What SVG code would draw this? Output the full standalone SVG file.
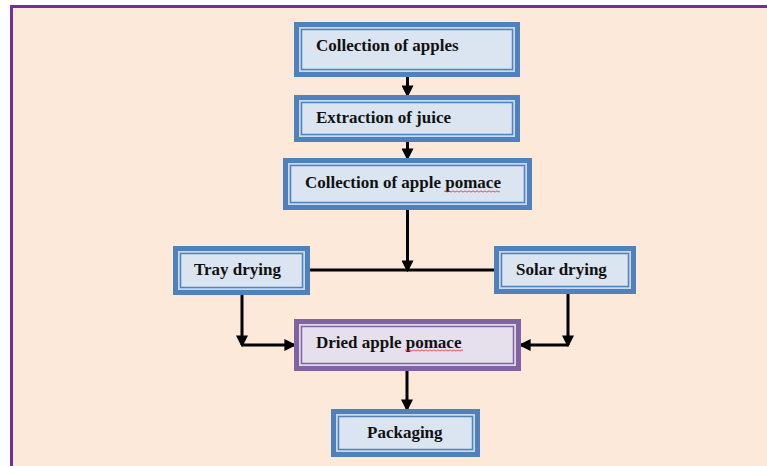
<svg xmlns="http://www.w3.org/2000/svg" width="767" height="466" viewBox="0 0 767 466">
<style>
.bo{fill:#4f81bd}
.bl{fill:#c6d9f1}
.bi{fill:#dbe5f1;stroke:#4f81bd;stroke-width:1.5}
.po{fill:#8064a2}
.pl{fill:#e0d8ea}
.pi{fill:#e5e0ec;stroke:#8064a2;stroke-width:1.5}
text{font-family:"Liberation Serif","Times New Roman",serif;font-weight:bold;font-size:17px;fill:#111}
.c{fill:none;stroke:#000;stroke-width:3}
.sq{fill:none;stroke:#e03030;stroke-width:0.8}
</style>
<defs>
<marker id="ah" markerWidth="4" markerHeight="4" refX="3.2" refY="2" orient="auto" markerUnits="strokeWidth">
<path d="M0,0 L4,2 L0,4 Z" fill="#000"/>
</marker>
</defs>
<rect x="0" y="0" width="767" height="466" fill="#fff"/>
<rect x="11.5" y="6.5" width="800" height="500" fill="#fde9d9" stroke="#7030a0" stroke-width="3"/>

<g id="connectors">
<line class="c" x1="407.5" y1="77" x2="407.5" y2="95" marker-end="url(#ah)"/>
<line class="c" x1="407.5" y1="142" x2="407.5" y2="158" marker-end="url(#ah)"/>
<line class="c" x1="407.5" y1="210" x2="407.5" y2="270" marker-end="url(#ah)"/>
<line class="c" x1="310" y1="270" x2="494" y2="270"/>
<line class="c" x1="242" y1="295" x2="242" y2="345" marker-end="url(#ah)"/>
<line class="c" x1="242" y1="345" x2="294" y2="345" marker-end="url(#ah)"/>
<line class="c" x1="568" y1="294" x2="568" y2="345" marker-end="url(#ah)"/>
<line class="c" x1="568" y1="345" x2="521" y2="345" marker-end="url(#ah)"/>
<line class="c" x1="407" y1="371" x2="407" y2="409" marker-end="url(#ah)"/>
</g>

<g id="n1">
<rect class="bo" x="294" y="22" width="226" height="55"/>
<rect class="bl" x="299" y="27" width="216" height="45"/>
<rect class="bi" x="301.5" y="29.5" width="211" height="40"/>
<text x="316" y="51">Collection of apples</text>
</g>
<g id="n2">
<rect class="bo" x="294" y="95" width="226" height="47"/>
<rect class="bl" x="299" y="100" width="216" height="37"/>
<rect class="bi" x="301.5" y="102.5" width="211" height="32"/>
<text x="316" y="123">Extraction of juice</text>
</g>
<g id="n3">
<rect class="bo" x="283" y="158" width="249" height="52"/>
<rect class="bl" x="288" y="163" width="239" height="42"/>
<rect class="bi" x="290.5" y="165.5" width="234" height="37"/>
<text x="305" y="188">Collection of apple pomace</text>
<path class="sq" d="M444,191.5 q1,-1.2 2,0 t2,0 t2,0 t2,0 t2,0 t2,0 t2,0 t2,0 t2,0 t2,0 t2,0 t2,0 t2,0 t2,0 t2,0 t2,0 t2,0 t2,0 t2,0 t2,0 t2,0 t2,0 t2,0 t2,0 t2,0 t2,0 t2,0 t2,0"/>
</g>
<g id="n4">
<rect class="bo" x="173" y="246" width="137" height="49"/>
<rect class="bl" x="178" y="251" width="127" height="39"/>
<rect class="bi" x="180.5" y="253.5" width="122" height="34"/>
<text x="194" y="275">Tray drying</text>
</g>
<g id="n5">
<rect class="bo" x="494" y="246" width="142" height="48"/>
<rect class="bl" x="499" y="251" width="132" height="38"/>
<rect class="bi" x="501.5" y="253.5" width="127" height="33"/>
<text x="516" y="275">Solar drying</text>
</g>
<g id="n6">
<rect class="po" x="294" y="319" width="227" height="52"/>
<rect class="pl" x="299" y="324" width="217" height="42"/>
<rect class="pi" x="301.5" y="326.5" width="212" height="37"/>
<text x="316" y="348">Dried apple pomace</text>
<path class="sq" d="M405,350.5 q1,-1.2 2,0 t2,0 t2,0 t2,0 t2,0 t2,0 t2,0 t2,0 t2,0 t2,0 t2,0 t2,0 t2,0 t2,0 t2,0 t2,0 t2,0 t2,0 t2,0 t2,0 t2,0 t2,0 t2,0 t2,0 t2,0 t2,0 t2,0 t2,0 t2,0"/>
</g>
<g id="n7">
<rect class="bo" x="331" y="409" width="149" height="48"/>
<rect class="bl" x="336" y="414" width="139" height="38"/>
<rect class="bi" x="338.5" y="416.5" width="134" height="33"/>
<text x="367" y="438">Packaging</text>
</g>
</svg>
